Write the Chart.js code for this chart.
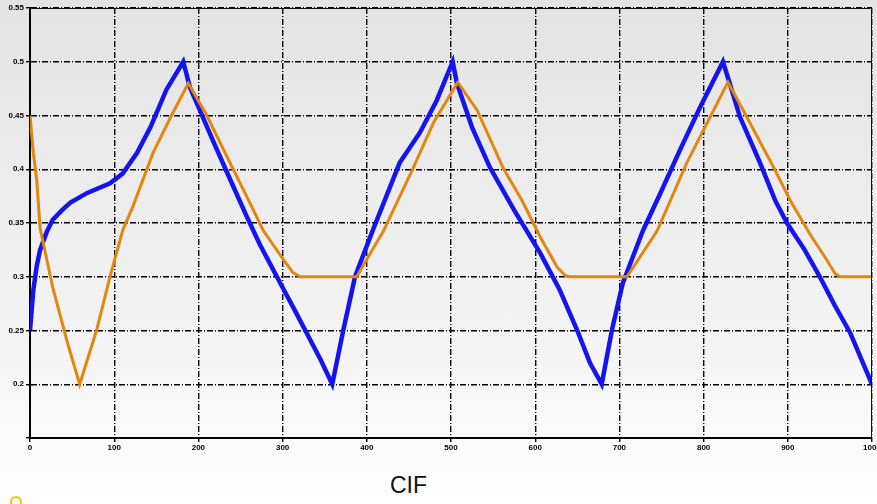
<!DOCTYPE html>
<html>
<head>
<meta charset="utf-8">
<script src="https://cdn.jsdelivr.net/npm/chart.js@4/dist/chart.umd.min.js"></script>
<style>
  html, body { margin: 0; padding: 0; }
  body {
    width: 877px; height: 504px; overflow: hidden; position: relative;
    background: linear-gradient(#e3e3e3, #f4f4f4 70%, #ffffff);
    font-family: "Liberation Sans", Arial, sans-serif;
  }
  #wrap { position: absolute; left: 0; top: 0; width: 877px; height: 460px; }
  #caption { position: absolute; left: 390px; top: 472px; font-size: 23px; color: #111; }
  #dot { position: absolute; left: 10px; top: 496px; width: 12px; height: 12px;
         border: 2px solid #f2c200; border-radius: 50%; box-sizing: border-box; }
</style>
</head>
<body>
<div id="wrap"><canvas id="chart"></canvas></div>
<div id="caption">CIF</div>
<div id="dot"></div>
<script>
// valores
const blueX = [0, 4, 8, 12, 20, 27, 38, 48, 68, 95, 110, 127, 143, 162, 182, 190, 200, 217, 238, 258, 273, 300, 315, 329, 345, 359,
  372, 386, 407, 439, 463, 483, 502, 507, 525, 546, 575, 606, 629, 650, 665, 679,
  691, 704, 728, 750, 772, 796, 823, 831, 843, 867, 885, 899, 920, 938, 956, 974, 1000];
const blueY = [0.25, 0.288, 0.31, 0.325, 0.342, 0.353, 0.362, 0.369, 0.378, 0.387, 0.396, 0.415, 0.439, 0.474, 0.5, 0.476, 0.458, 0.427, 0.39, 0.355, 0.33, 0.29, 0.268, 0.247, 0.223, 0.2,
  0.25, 0.3, 0.343, 0.406, 0.434, 0.464, 0.5, 0.48, 0.439, 0.402, 0.362, 0.322, 0.288, 0.25, 0.22, 0.2,
  0.25, 0.294, 0.343, 0.38, 0.418, 0.458, 0.5, 0.48, 0.449, 0.406, 0.371, 0.35, 0.325, 0.3, 0.273, 0.248, 0.2];

const orangeX = [0, 4, 8, 12, 27, 44, 59, 79, 95, 110, 122, 146, 168, 188, 210, 235, 261, 277, 301, 312, 321, 388,
  420, 455, 479, 508, 531, 562, 585, 606, 626, 636, 641, 709,
  745, 780, 808, 829, 851, 883, 903, 926, 946, 956, 962, 1000];
const orangeY = [0.45, 0.415, 0.39, 0.345, 0.29, 0.24, 0.2, 0.25, 0.3, 0.343, 0.365, 0.415, 0.45, 0.48, 0.45, 0.41, 0.369, 0.343, 0.316, 0.304, 0.3, 0.3,
  0.343, 0.401, 0.443, 0.481, 0.455, 0.401, 0.37, 0.337, 0.309, 0.301, 0.3, 0.3,
  0.343, 0.406, 0.449, 0.481, 0.449, 0.402, 0.371, 0.34, 0.316, 0.303, 0.3, 0.3];

const xTicks = [0, 100, 200, 300, 400, 500, 600, 700, 800, 900, 1000];
const yTickLabels = ['', '0.2', '0.25', '0.3', '0.35', '0.4', '0.45', '0.5', '0.55'];

function toPoints(xs, ys) {
  return xs.map((x, i) => ({ x: x, y: ys[i] }));
}

const gridStyle = {
  color: '#000',
  lineWidth: 1.4,
  tickLength: 4,
  tickColor: '#000'
};

new Chart(document.getElementById('chart'), {
  type: 'line',
  data: {
    datasets: [
      {
        label: 'orange',
        data: toPoints(orangeX, orangeY),
        borderColor: '#e2860e',
        borderWidth: 3,
        pointRadius: 0,
        tension: 0
      },
      {
        label: 'blue',
        data: toPoints(blueX, blueY),
        borderColor: '#1414ee',
        borderWidth: 4.5,
        pointRadius: 0,
        tension: 0
      }
    ]
  },
  options: {
    responsive: true,
    maintainAspectRatio: false,
    animation: false,
    layout: { padding: { top: 8, right: 5, left: 0, bottom: 0 } },
    plugins: { legend: { display: false }, tooltip: { enabled: false } },
    scales: {
      x: {
        type: 'linear',
        min: 0, max: 1000,
        afterBuildTicks: scale => { scale.ticks = xTicks.map(v => ({ value: v })); },
        afterFit: scale => { scale.height = 22; scale.paddingLeft = 0; scale.paddingRight = 0; },
        grid: gridStyle,
        border: { display: true, color: '#000', width: 2, dash: [6, 2, 1, 2] },
        ticks: {
          color: '#000', padding: 1, maxRotation: 0, autoSkip: false,
          font: { size: 8, weight: 'bold', family: 'Arial' },
          callback: (v, i) => String(xTicks[i])
        }
      },
      y: {
        min: 0.15, max: 0.55,
        afterBuildTicks: scale => { scale.ticks = yTickLabels.map((t, i) => ({ value: 0.15 + i * 0.05 })); },
        afterFit: scale => { scale.width = 30; },
        grid: gridStyle,
        border: { display: true, color: '#000', width: 2, dash: [6, 2, 1, 2] },
        ticks: {
          color: '#000', padding: 2,
          font: { size: 8, weight: 'bold', family: 'Arial' },
          callback: (v, i) => yTickLabels[i]
        }
      }
    }
  },
  plugins: [{
    id: 'frame',
    afterDatasetsDraw: chart => {
      const a = chart.chartArea;
      const ctx = chart.ctx;
      ctx.save();
      ctx.strokeStyle = '#111';
      ctx.lineWidth = 1;
      ctx.beginPath();
      ctx.moveTo(a.left, a.top + 0.5);
      ctx.lineTo(a.right, a.top + 0.5);
      ctx.moveTo(a.right - 0.5, a.top);
      ctx.lineTo(a.right - 0.5, a.bottom);
      ctx.stroke();
      ctx.restore();
    }
  }]
});
</script>
</body>
</html>
